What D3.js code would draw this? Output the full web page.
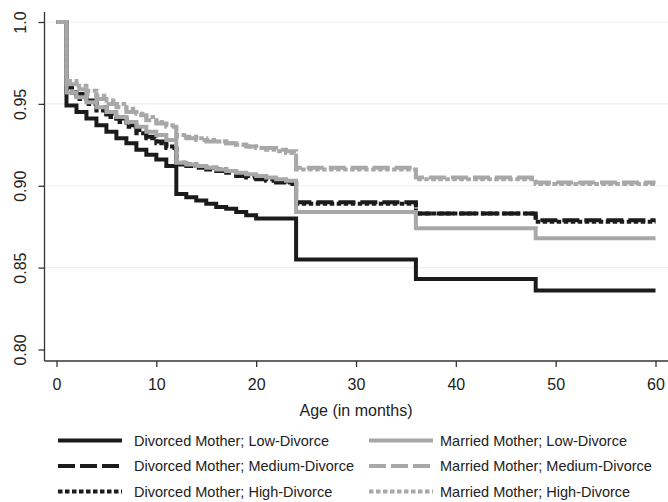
<!DOCTYPE html>
<html>
<head>
<meta charset="utf-8">
<script src="https://cdn.jsdelivr.net/npm/d3@7"></script>
<style>
body { margin: 0; background: #fff; }
svg { display: block; font-family: "Liberation Sans", Arial, sans-serif; }
</style>
</head>
<body>
<svg id="chart" width="668" height="502"></svg>
<script>
// months where the survival steps change (last one just closes the line)
var months = [0,1,2,3,4,5,6,7,8,9,10,11,12,13,14,15,16,17,18,19,20,21,22,23,24,36,48,60];

var divorcedLow    = [1.0,0.949,0.945,0.941,0.937,0.933,0.929,0.926,0.922,0.919,0.916,0.912,0.895,0.893,0.891,0.889,0.887,0.886,0.884,0.882,0.880,0.880,0.880,0.880,0.855,0.843,0.836,0.836];
var divorcedMedium = [1.0,0.960,0.956,0.952,0.948,0.944,0.941,0.937,0.934,0.930,0.927,0.923,0.913,0.912,0.911,0.910,0.909,0.908,0.906,0.905,0.904,0.903,0.902,0.901,0.890,0.883,0.879,0.879];
var divorcedHigh   = [1.0,0.957,0.953,0.950,0.946,0.942,0.939,0.936,0.932,0.929,0.926,0.924,0.914,0.913,0.912,0.911,0.910,0.909,0.907,0.906,0.905,0.904,0.903,0.902,0.889,0.883,0.878,0.878];
var marriedLow     = [1.0,0.957,0.954,0.951,0.948,0.945,0.942,0.939,0.936,0.933,0.931,0.928,0.914,0.913,0.912,0.911,0.910,0.909,0.908,0.907,0.906,0.905,0.904,0.903,0.884,0.874,0.868,0.868];
var marriedMedium  = [1.0,0.962,0.959,0.956,0.953,0.950,0.948,0.945,0.943,0.940,0.938,0.936,0.930,0.929,0.928,0.927,0.927,0.926,0.925,0.924,0.923,0.923,0.922,0.921,0.911,0.905,0.902,0.902];
var marriedHigh    = [1.0,0.964,0.961,0.958,0.955,0.952,0.950,0.947,0.944,0.942,0.939,0.937,0.931,0.930,0.929,0.928,0.927,0.926,0.925,0.924,0.923,0.922,0.921,0.920,0.910,0.904,0.901,0.901];

var seriesNames = ["Divorced Mother; Low-Divorce","Divorced Mother; Medium-Divorce","Divorced Mother; High-Divorce",
                   "Married Mother; Low-Divorce","Married Mother; Medium-Divorce","Married Mother; High-Divorce"];
var seriesValues = [divorcedLow, divorcedMedium, divorcedHigh, marriedLow, marriedMedium, marriedHigh];

var xTicks = [0,10,20,30,40,50,60];
var yTicks = [0.80,0.85,0.90,0.95,1.0];
var yTickLabels = ["0.80","0.85","0.90","0.95","1.0"];

var black = "#1b1b1b";
var grey = "#a8a8a8";
var styles = [
  {color: black, dash: null},
  {color: black, dash: "17,5"},
  {color: black, dash: "4.5,2.5"},
  {color: grey, dash: null},
  {color: grey, dash: "17,5"},
  {color: grey, dash: "4.5,2.5"}
];

var svg = d3.select("#chart");

var x = d3.scaleLinear().domain([0,60]).range([56.5,655.5]);
var y = d3.scaleLinear().domain([0.80,1.0]).range([349.5,22]);

var axisLeftX = 44.5;
var axisBottomY = 361;

// faint gridlines
svg.append("g").attr("id","grid")
  .selectAll("line")
  .data(yTicks.slice(1))
  .enter().append("line")
  .attr("x1", axisLeftX)
  .attr("x2", 668)
  .attr("y1", function(d){ return y(d); })
  .attr("y2", function(d){ return y(d); })
  .style("stroke", "#efefef")
  .style("stroke-width", 1.2);

// y axis
var yAxis = d3.axisLeft(y).tickValues(yTicks).tickSize(6).tickFormat(function(d,i){ return yTickLabels[i]; });
var gy = svg.append("g").attr("transform","translate(" + axisLeftX + ",0)").call(yAxis);
gy.select(".domain").attr("d","M0,12V" + axisBottomY);
gy.selectAll("line").style("stroke","#333").style("stroke-width",1.3);
gy.select(".domain").style("stroke","#333").style("stroke-width",1.3);
gy.selectAll("text")
  .attr("x", null).attr("dy", null)
  .attr("transform","translate(-18.5,0) rotate(-90)")
  .attr("text-anchor","middle")
  .style("font-size","16px")
  .style("fill","#222");

// x axis
var xAxis = d3.axisBottom(x).tickValues(xTicks).tickSize(6).tickFormat(d3.format("d"));
var gx = svg.append("g").attr("transform","translate(0," + axisBottomY + ")").call(xAxis);
gx.select(".domain").attr("d","M" + axisLeftX + ",0H668");
gx.selectAll("line").style("stroke","#333").style("stroke-width",1.3);
gx.select(".domain").style("stroke","#333").style("stroke-width",1.3);
gx.selectAll("text")
  .attr("y", 29).attr("dy", null)
  .style("font-size","16px")
  .style("fill","#222");

svg.append("text")
  .attr("x", x(30))
  .attr("y", 416)
  .attr("text-anchor","middle")
  .style("font-size","16px")
  .style("fill","#222")
  .text("Age (in months)");

// survival curves
var line = d3.line()
  .x(function(d){ return x(d[0]); })
  .y(function(d){ return y(d[1]); })
  .curve(d3.curveStepAfter);

seriesValues.forEach(function(vals, i){
  var pts = months.map(function(m, j){ return [m, vals[j]]; });
  svg.append("path")
    .attr("d", line(pts))
    .style("fill","none")
    .style("stroke", styles[i].color)
    .style("stroke-width", 4)
    .style("stroke-dasharray", styles[i].dash);
});

// legend
var legendRows = [440.5, 466, 491.5];
var legendCols = [{x1: 58, x2: 122, tx: 134}, {x1: 369, x2: 433, tx: 440}];

seriesNames.forEach(function(name, i){
  var col = legendCols[Math.floor(i/3)];
  var ly = legendRows[i % 3];
  var g = svg.append("g").attr("class","legendItem");
  g.append("line")
    .attr("x1", col.x1).attr("x2", col.x2)
    .attr("y1", ly).attr("y2", ly)
    .style("stroke", styles[i].color)
    .style("stroke-width", 4.2)
    .style("stroke-dasharray", styles[i].dash);
  g.append("text")
    .attr("x", col.tx)
    .attr("y", ly + 5)
    .style("font-size","14.5px")
    .style("fill","#222")
    .text(name);
});
</script>
</body>
</html>
